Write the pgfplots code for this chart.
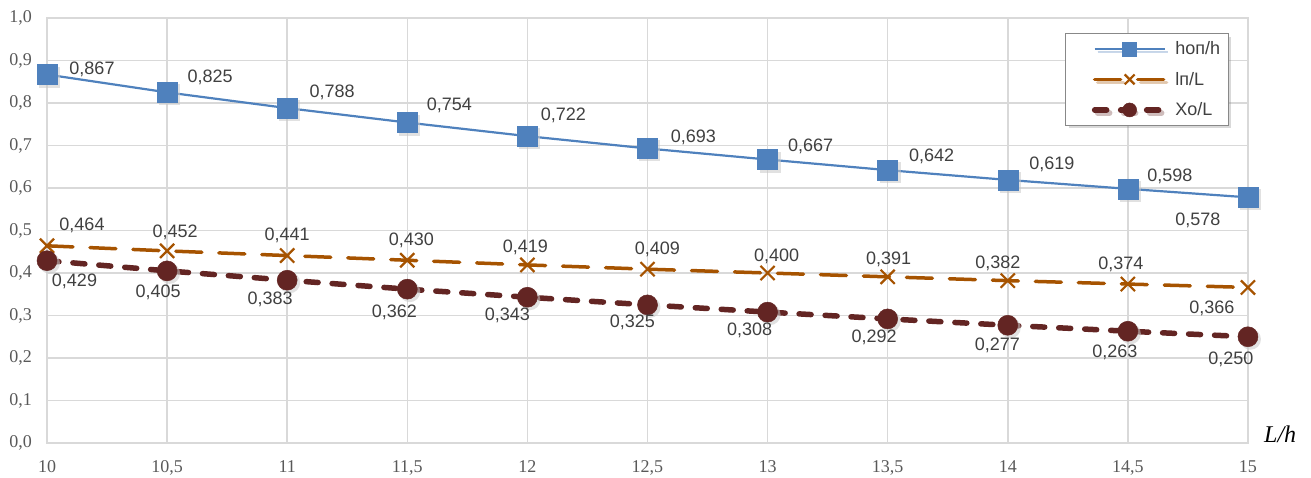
\documentclass[border=0pt]{standalone}
\usepackage{fontspec}
\setmainfont{Liberation Serif}
\newfontfamily\arial{Liberation Sans}
\usepackage{pgfplots}
\usepackage{pgfplotstable}
\pgfplotsset{compat=1.18}
\usetikzlibrary{shadows}
\definecolor{cblue}{HTML}{4F81BD}
\definecolor{corange}{HTML}{A65300}
\definecolor{cred}{HTML}{632523}
\definecolor{gridgray}{HTML}{D9D9D9}
\definecolor{ticktext}{HTML}{595959}
\definecolor{labeltext}{HTML}{404040}
\definecolor{legendframe}{HTML}{888888}
\definecolor{shadowgray}{HTML}{C8C8C8}

\pgfplotstableread{
x y dx dy
10 0.867 45 5
10.5 0.825 43 15
11 0.788 45 16
11.5 0.754 42 17
12 0.722 36 21
12.5 0.693 46 11
13 0.667 43 13.5
13.5 0.642 44 14
14 0.619 44 15.5
14.5 0.598 42 12
15 0.578 -50 -23
}\tabA

\pgfplotstableread{
x y dx dy
10 0.464 35 20
10.5 0.452 8 19
11 0.441 0 20.5
11.5 0.430 4 20
12 0.419 -2 17.5
12.5 0.409 10 20
13 0.400 9 16.5
13.5 0.391 1 17
14 0.382 -10 17
14.5 0.374 -7 20
15 0.366 -36 -21
}\tabB

\pgfplotstableread{
x y dx dy
10 0.429 27.5 -21
10.5 0.405 -9 -21.5
11 0.383 -17 -19
11.5 0.362 -13 -23
12 0.343 -20 -18
12.5 0.325 -15 -17.5
13 0.308 -18 -18.5
13.5 0.292 -13.5 -18.5
14 0.277 -10.5 -20
14.5 0.263 -13 -21
15 0.250 -17 -23
}\tabC

\pgfplotsset{
  lbl/.style={
    draw=none, mark=none, forget plot,
    point meta=y,
    nodes near coords={\pgfmathprintnumber[fixed,fixed zerofill,precision=3,use comma,assume math mode=true]{\pgfplotspointmeta}},
    visualization depends on={\thisrow{dx}\as\dx},
    visualization depends on={\thisrow{dy}\as\dy},
    nodes near coords style={anchor=center, inner sep=0pt, xshift=\dx pt, yshift=\dy pt,
      font=\arial\fontsize{18}{18}\selectfont, text=labeltext},
  },
  shd/.style={only marks, forget plot, mark size=10.5pt, color=shadowgray,
    mark options={draw=shadowgray, fill=shadowgray, line width=0pt, fill opacity=0.55, draw opacity=0, xshift=2.5pt, yshift=-2.5pt}},
}

\begin{document}
\begin{tikzpicture}
\useasboundingbox (-47pt,-34pt) rectangle (1264pt,443pt);
\begin{axis}[
  at={(0pt,0pt)}, anchor=south west,
  scale only axis, width=1201pt, height=425pt,
  xmin=10, xmax=15, ymin=0, ymax=1,
  clip=false,
  xtick={10,10.5,11,11.5,12,12.5,13,13.5,14,14.5,15},
  ytick={0,0.1,0.2,0.3,0.4,0.5,0.6,0.7,0.8,0.9,1.0},
  /pgf/number format/assume math mode=true,
  xticklabel={\pgfmathprintnumber[fixed,precision=1,use comma,assume math mode=true]{\tick}},
  yticklabel={\pgfmathprintnumber[fixed,fixed zerofill,precision=1,use comma,assume math mode=true]{\tick}},
  grid=major,
  major grid style={draw=gridgray, line width=1.5pt},
  axis line style={draw=gridgray, line width=1.5pt},
  major tick length=0pt,
  tick label style={font=\fontsize{18}{18}\selectfont, text=ticktext},
  yticklabel style={anchor=east, inner sep=0pt, xshift=-15pt},
  xticklabel style={anchor=north, inner sep=0pt, yshift=-17pt},
  xlabel={\fontsize{24}{24}\selectfont\itshape L/h},
  xlabel style={at={(rel axis cs:1,0)}, anchor=base west, inner sep=0pt, xshift=16pt, yshift=1pt, text=black},
  legend style={at={(rel axis cs:0.9842,0.9647)}, anchor=north east,
    draw=legendframe, line width=1.2pt, fill=white,
    font=\arial\fontsize{18}{18}\selectfont, text=labeltext,
    inner xsep=0pt, inner ysep=6pt, row sep=12pt, column sep=6pt,
    cells={anchor=west},
    drop shadow={shadow xshift=3pt, shadow yshift=-3pt, opacity=0.3}},
  legend image code/.code={
    \path (-26pt,0pt) (70pt,0pt);
    \draw[mark repeat=2, mark phase=2, #1, mark size=7pt] plot coordinates {(0pt,0pt) (35pt,0pt) (70pt,0pt)};
  },
]
\addplot[shd, mark=square*] table[x=x,y=y]{\tabA};
\addplot[cblue, line width=2.2pt, mark=square*, mark size=10pt,
  mark options={solid, fill=cblue, draw=cblue, line width=0.5pt}]
  table[x=x,y=y]{\tabA};
\addlegendentry{\makebox[51pt][l]{hoп/h}}
\addplot[corange, line width=3.5pt, dash pattern=on 26pt off 17pt, line cap=round,
  mark=x, mark size=10pt, mark options={solid, line width=2.2pt, line cap=butt}]
  table[x=x,y=y]{\tabB};
\addlegendentry{\makebox[51pt][l]{lп/L}}
\addplot[shd, mark=*] table[x=x,y=y]{\tabC};
\addplot[cred, line width=5.5pt, dash pattern=on 12pt off 14pt, line cap=round,
  mark=*, mark size=10pt, mark options={solid, fill=cred, draw=cred, line width=0.5pt}]
  table[x=x,y=y]{\tabC};
\addlegendentry{\makebox[51pt][l]{Xo/L}}
\addplot[lbl] table[x=x,y=y]{\tabA};
\addplot[lbl] table[x=x,y=y]{\tabB};
\addplot[lbl] table[x=x,y=y]{\tabC};
\end{axis}
\end{tikzpicture}
\end{document}
